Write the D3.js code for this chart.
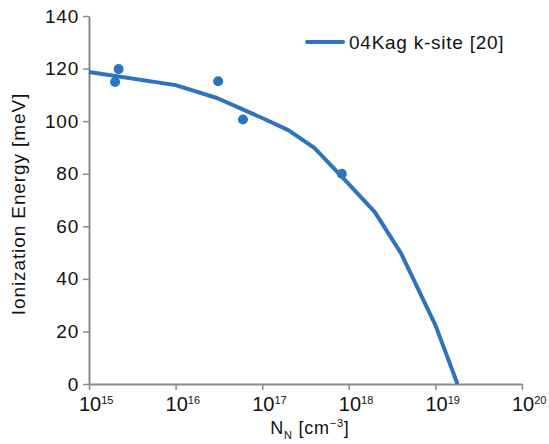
<!DOCTYPE html>
<html>
<head>
<meta charset="utf-8">
<script src="https://cdn.jsdelivr.net/npm/d3@7"></script>
<style>
  body { margin: 0; background: #fff; }
  text { font-family: "Liberation Sans", Arial, sans-serif; fill: #111; }
</style>
</head>
<body>
<svg id="chart" width="549" height="444"></svg>
<script>
// fitted curve (04Kag k-site [20])
var curveN = [1e15, 1e16, 3e16, 1e17, 2e17, 4e17, 8e17, 2e18, 4e18, 1e19, 1.8e19];
var curveE = [118.7, 113.7, 108.8, 101.2, 96.6, 89.8, 79.5, 65.4, 49.8, 22.4, 0];

// measured points
var dotN = [2.2e15, 2.0e15, 3.1e16, 6.0e16, 8.3e17];
var dotE = [119.8, 114.9, 115.2, 100.6, 80];

var yTicks = [0, 20, 40, 60, 80, 100, 120, 140];
var xTickExp = [15, 16, 17, 18, 19, 20];

var seriesName = '04Kag k-site [20]';
var blue = '#2e73bd';
var axisGrey = '#8a8a8a';
var fs = '19px', ls = '0.75px';

var m = { left: 89, top: 16, right: 27, bottom: 60 };
var W = 549, H = 444;

var svg = d3.select('#chart');

var x = d3.scaleLog().domain([1e15, 1e20]).range([m.left, W - m.right]);
var y = d3.scaleLinear().domain([0, 140]).range([H - m.bottom, m.top]);

// y axis
var yAxis = svg.append('g').attr('transform', 'translate(' + m.left + ',0)')
  .call(d3.axisLeft(y).tickValues(yTicks).tickSize(6).tickSizeOuter(0).tickPadding(4));
yAxis.select('.domain').attr('stroke', axisGrey).attr('stroke-width', 2);
yAxis.selectAll('.tick line').attr('stroke', axisGrey).attr('stroke-width', 1.5);
yAxis.selectAll('.tick text').style('font-size', fs).style('letter-spacing', ls).attr('fill', '#111')
  .style('font-family', '"Liberation Sans", Arial, sans-serif');

// x axis
var xAxis = svg.append('g').attr('transform', 'translate(0,' + (H - m.bottom) + ')')
  .call(d3.axisBottom(x).tickValues(xTickExp.map(function(e) { return Math.pow(10, e); }))
    .tickSize(6).tickSizeOuter(0).tickFormat(''));
xAxis.select('.domain').attr('stroke', axisGrey).attr('stroke-width', 2);
xAxis.selectAll('.tick line').attr('stroke', axisGrey).attr('stroke-width', 1.5);

var xl = svg.append('g').selectAll('text').data(xTickExp).enter().append('text')
  .attr('x', function(e) { return x(Math.pow(10, e)) - 10; })
  .attr('y', H - m.bottom + 27)
  .style('font-size', '20px');
xl.append('tspan').text('10');
xl.append('tspan').attr('dy', -7).style('font-size', '11px').text(function(e) { return e; });

// axis titles
svg.append('text')
  .attr('transform', 'translate(25,204) rotate(-90)')
  .attr('text-anchor', 'middle')
  .style('font-size', fs).style('letter-spacing', '0.9px')
  .text('Ionization Energy [meV]');

var xt = svg.append('text')
  .attr('x', 310).attr('y', 434)
  .attr('text-anchor', 'middle')
  .style('font-size', '18px').style('letter-spacing', ls);
xt.append('tspan').text('N');
xt.append('tspan').attr('dy', 5).style('font-size', '11px').text('N');
xt.append('tspan').attr('dy', -5).text(' [cm');
xt.append('tspan').attr('dy', -7).style('font-size', '11px').text('\u22123');
xt.append('tspan').attr('dy', 7).text(']');

// curve
var curve = curveN.map(function(n, i) { return [n, curveE[i]]; });
svg.append('path')
  .datum(curve)
  .attr('fill', 'none')
  .attr('stroke', blue)
  .attr('stroke-width', 4)
  .attr('stroke-linejoin', 'round')
  .attr('d', d3.line().x(function(d) { return x(d[0]); }).y(function(d) { return y(d[1]); }));

// dots
svg.append('g').selectAll('circle').data(dotN).enter().append('circle')
  .attr('cx', function(n) { return x(n); })
  .attr('cy', function(n, i) { return y(dotE[i]); })
  .attr('r', 5)
  .attr('fill', blue);

// legend
svg.append('line')
  .attr('x1', 307).attr('x2', 343).attr('y1', 42).attr('y2', 42)
  .attr('stroke', blue).attr('stroke-width', 4).attr('stroke-linecap', 'round');
svg.append('text')
  .attr('x', 349).attr('y', 49)
  .style('font-size', fs).style('letter-spacing', ls)
  .text(seriesName);
</script>
</body>
</html>
